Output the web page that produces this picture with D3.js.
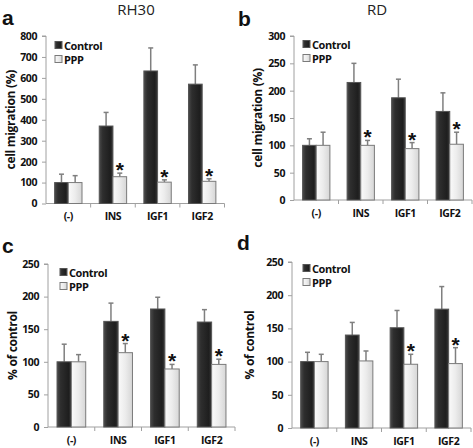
<!DOCTYPE html>
<html>
<head>
<meta charset="utf-8">
<script src="https://cdnjs.cloudflare.com/ajax/libs/d3/7.8.5/d3.min.js"></script>
<style>
  html, body { margin: 0; padding: 0; background: #fff; }
  svg { display: block; }
</style>
</head>
<body>
<svg id="chart" width="473" height="448"></svg>
<script>
// ---------- DATA ----------
const categories = ["(-)", "INS", "IGF1", "IGF2"];
const seriesNames = ["Control", "PPP"];

// Panel a: RH30 cell migration (%)
const aControl = [100, 370, 633, 570];
const aControlErr = [40, 65, 110, 92];
const aPPP = [100, 128, 102, 106];
const aPPPErr = [33, 17, 11, 12];
const aSig = [false, true, true, true];
const aTicks = [0, 100, 200, 300, 400, 500, 600, 700, 800];

// Panel b: RD cell migration (%)
const bControl = [100, 215, 187, 162];
const bControlErr = [12, 35, 34, 34];
const bPPP = [100, 100, 94, 102];
const bPPPErr = [24, 9, 11, 22];
const bSig = [false, true, true, true];
const bTicks = [0, 50, 100, 150, 200, 250, 300];

// Panel c: RH30 % of control
const cControl = [100, 162, 181, 161];
const cControlErr = [27, 28, 18, 19];
const cPPP = [100, 114, 89, 96];
const cPPPErr = [11, 14, 7, 8];
const cSig = [false, true, true, true];
const cTicks = [0, 50, 100, 150, 200, 250];

// Panel d: RD % of control
const dControl = [100, 140, 151, 179];
const dControlErr = [14, 19, 26, 34];
const dPPP = [100, 101, 96, 97];
const dPPPErr = [11, 15, 15, 24];
const dSig = [false, false, true, true];
const dTicks = [0, 50, 100, 150, 200, 250];

const columnTitles = ["RH30", "RD"];
const panelLetters = ["a", "b", "c", "d"];
const yTitles = ["cell migration (%)", "cell migration (%)", "% of control", "% of control"];

// ---------- LAYOUT ----------
const panels = [
  { letter: panelLetters[0], ctrl: aControl, ctrlErr: aControlErr, ppp: aPPP, pppErr: aPPPErr, sig: aSig, ticks: aTicks, yTitle: yTitles[0],
    x0: 46, x1: 224.5, yb: 203.5, yt: 36, lx: 2, ly: 25, titleX: 10, legX: 55, legY: 45 },
  { letter: panelLetters[1], ctrl: bControl, ctrlErr: bControlErr, ppp: bPPP, pppErr: bPPPErr, sig: bSig, ticks: bTicks, yTitle: yTitles[1],
    x0: 294, x1: 472, yb: 200, yt: 36, lx: 238, ly: 26, titleX: 257, legX: 303, legY: 44 },
  { letter: panelLetters[2], ctrl: cControl, ctrlErr: cControlErr, ppp: cPPP, pppErr: cPPPErr, sig: cSig, ticks: cTicks, yTitle: yTitles[2],
    x0: 48, x1: 235, yb: 427, yt: 264, lx: 2, ly: 253, titleX: 12, legX: 60, legY: 272 },
  { letter: panelLetters[3], ctrl: dControl, ctrlErr: dControlErr, ppp: dPPP, pppErr: dPPPErr, sig: dSig, ticks: dTicks, yTitle: yTitles[3],
    x0: 292, x1: 471, yb: 428, yt: 262, lx: 237, ly: 250, titleX: 249, legX: 303, legY: 268 }
];

const svg = d3.select("#chart");
const FONT = "'Open Sans', 'Liberation Sans', sans-serif";

// gradients
const defs = svg.append("defs");
const gC = defs.append("linearGradient").attr("id", "gradCtrl").attr("x1", "0").attr("x2", "1").attr("y1", "0").attr("y2", "0");
gC.append("stop").attr("offset", "0%").attr("stop-color", "#4a4a4a");
gC.append("stop").attr("offset", "25%").attr("stop-color", "#2e2e2e");
gC.append("stop").attr("offset", "80%").attr("stop-color", "#1e1e1e");
gC.append("stop").attr("offset", "100%").attr("stop-color", "#3a3a3a");
const gP = defs.append("linearGradient").attr("id", "gradPPP").attr("x1", "0").attr("x2", "1").attr("y1", "0").attr("y2", "0");
gP.append("stop").attr("offset", "0%").attr("stop-color", "#fafafa");
gP.append("stop").attr("offset", "50%").attr("stop-color", "#ececec");
gP.append("stop").attr("offset", "100%").attr("stop-color", "#d6d6d6");

const fills = { Control: "url(#gradCtrl)", PPP: "url(#gradPPP)" };
const strokes = { Control: "#555", PPP: "#7a7a7a" };

// column titles
svg.append("text").attr("x", 136).attr("y", 15).attr("text-anchor", "middle")
  .attr("font-family", FONT).attr("font-size", 15).attr("fill", "#222").text(columnTitles[0]);
svg.append("text").attr("x", 377).attr("y", 15).attr("text-anchor", "middle")
  .attr("font-family", FONT).attr("font-size", 15).attr("fill", "#222").text(columnTitles[1]);

panels.forEach(p => {
  const g = svg.append("g");
  const yMax = p.ticks[p.ticks.length - 1];
  const y = d3.scaleLinear().domain([0, yMax]).range([p.yb, p.yt]);
  const x = d3.scaleBand().domain(categories).range([p.x0, p.x1]).paddingInner(0).paddingOuter(0);
  const xs = d3.scaleBand().domain(seriesNames).range([0, x.bandwidth()]).paddingInner(0).paddingOuter(0.63);

  // panel letter
  svg.append("text").attr("x", p.lx).attr("y", p.ly).attr("font-family", "'Liberation Sans', Arial, sans-serif")
    .attr("font-weight", "bold").attr("font-size", 21).attr("fill", "#111").text(p.letter);

  // y axis
  const yAxis = d3.axisLeft(y).tickValues(p.ticks).tickSize(4).tickPadding(5);
  const ya = g.append("g").attr("transform", `translate(${p.x0},0)`).call(yAxis);
  ya.select(".domain").attr("stroke", "#a0a0a0").attr("d", `M-4,${p.yt}H0V${p.yb}`);
  ya.selectAll(".tick line").attr("stroke", "#a0a0a0");
  ya.selectAll(".tick text").attr("font-family", FONT).attr("font-weight", "bold").attr("font-size", 10.5)
    .attr("fill", "#111").style("letter-spacing", "-0.4px");

  // x axis
  const xa = g.append("g").attr("transform", `translate(0,${p.yb})`);
  xa.append("line").attr("x1", p.x0).attr("x2", p.x1).attr("y1", 0).attr("y2", 0).attr("stroke", "#a0a0a0");
  const bounds = categories.map(c => x(c)).concat([x(categories[categories.length - 1]) + x.bandwidth()]);
  xa.selectAll("line.tk").data(bounds.slice(1)).join("line").attr("class", "tk")
    .attr("x1", d => d).attr("x2", d => d).attr("y1", 0).attr("y2", 4).attr("stroke", "#a0a0a0");
  xa.selectAll("text").data(categories).join("text")
    .attr("x", d => x(d) + x.bandwidth() / 2).attr("y", 16.5).attr("text-anchor", "middle")
    .attr("font-family", FONT).attr("font-weight", "bold").attr("font-size", 10.5).attr("fill", "#111")
    .style("letter-spacing", "-0.4px").text(d => d);

  // y title
  svg.append("text").attr("transform", `translate(${p.titleX},${(p.yb + p.yt) / 2 + 0}) rotate(-90)`)
    .attr("text-anchor", "middle").attr("dominant-baseline", "central")
    .attr("font-family", FONT).attr("font-weight", "bold").attr("font-size", 12).attr("fill", "#111")
    .style("letter-spacing", "-0.3px").text(p.yTitle);

  // bars
  const rows = [];
  categories.forEach((c, i) => {
    rows.push({ cat: c, s: "Control", v: p.ctrl[i], e: p.ctrlErr[i], sig: false });
    rows.push({ cat: c, s: "PPP", v: p.ppp[i], e: p.pppErr[i], sig: p.sig[i] });
  });
  const bx = d => x(d.cat) + xs(d.s);
  const bw = xs.bandwidth();

  g.selectAll("line.err").data(rows).join("line").attr("class", "err")
    .attr("x1", d => bx(d) + bw / 2).attr("x2", d => bx(d) + bw / 2)
    .attr("y1", d => y(d.v)).attr("y2", d => y(d.v + d.e))
    .attr("stroke", "#7f7f7f").attr("stroke-width", 1.5);
  g.selectAll("line.cap").data(rows).join("line").attr("class", "cap")
    .attr("x1", d => bx(d) + bw / 2 - 2.5).attr("x2", d => bx(d) + bw / 2 + 2.5)
    .attr("y1", d => y(d.v + d.e)).attr("y2", d => y(d.v + d.e))
    .attr("stroke", "#7f7f7f").attr("stroke-width", 1.5);

  g.selectAll("rect.bar").data(rows).join("rect").attr("class", "bar")
    .attr("x", d => bx(d)).attr("width", bw)
    .attr("y", d => y(d.v)).attr("height", d => y(0) - y(d.v))
    .attr("fill", d => fills[d.s]).attr("stroke", d => strokes[d.s]).attr("stroke-width", 1);

  // significance asterisks
  g.selectAll("text.sig").data(rows.filter(d => d.sig)).join("text").attr("class", "sig")
    .attr("x", d => bx(d) + bw / 2).attr("y", d => y(d.v + d.e) + 4)
    .attr("text-anchor", "middle").attr("font-family", "'Liberation Sans', Arial, sans-serif")
    .attr("font-weight", "bold").attr("font-size", 21).attr("fill", "#111").text("*");

  // legend
  const leg = g.append("g").attr("transform", `translate(${p.legX},${p.legY})`);
  seriesNames.forEach((s, i) => {
    const row = leg.append("g").attr("transform", `translate(0,${i * 14})`);
    row.append("rect").attr("x", 0).attr("y", -3.5).attr("width", 7).attr("height", 7)
      .attr("fill", fills[s]).attr("stroke", strokes[s]).attr("stroke-width", 1);
    row.append("text").attr("x", 9).attr("y", 0).attr("dominant-baseline", "central")
      .attr("font-family", FONT).attr("font-weight", "bold").attr("font-size", 11).attr("fill", "#111")
      .style("letter-spacing", "-0.4px").text(s);
  });
});
</script>
</body>
</html>
